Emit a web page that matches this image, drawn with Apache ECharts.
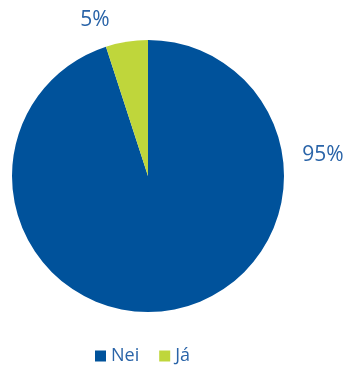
<!DOCTYPE html>
<html>
<head>
<meta charset="utf-8">
<script src="https://cdn.jsdelivr.net/npm/echarts@6/dist/echarts.min.js"></script>
<style>
  html, body { margin: 0; padding: 0; background: #ffffff; }
  #chart { width: 348px; height: 366px; }
</style>
</head>
<body>
<div id="chart"></div>
<script>
// Answers and their shares (percent)
const categories = ['Nei', 'Já'];
const shares = [95, 5];
const sliceColors = ['#00529b', '#bfd63b'];

const textBlue = '#2a64a8';
const fontFamily = '"Open Sans", "Noto Sans", sans-serif';

// Fixed spots for each slice's percentage label
const labelSpots = [
  { x: 323, y: 155 },
  { x: 95, y: 20 }
];

const chart = echarts.init(document.getElementById('chart'), null, { renderer: 'canvas' });

chart.setOption({
  animation: false,
  color: sliceColors,
  legend: {
    data: categories,
    left: 90,
    top: 342,
    padding: 5,
    icon: 'rect',
    itemWidth: 11,
    itemHeight: 11,
    itemGap: 20,
    textStyle: {
      color: textBlue,
      fontFamily: fontFamily,
      fontSize: 18,
      fontWeight: 400
    }
  },
  series: [{
    type: 'pie',
    center: [148, 176],
    radius: 136,
    startAngle: 90,
    clockwise: true,
    data: categories.map((name, i) => ({ name: name, value: shares[i] })),
    itemStyle: { borderWidth: 0 },
    label: {
      show: true,
      position: 'outside',
      formatter: p => p.value + '%',
      color: textBlue,
      fontFamily: fontFamily,
      fontSize: 21,
      fontWeight: 400
    },
    labelLine: { show: false },
    labelLayout: p => ({
      x: labelSpots[p.dataIndex].x,
      y: labelSpots[p.dataIndex].y,
      align: 'center',
      verticalAlign: 'middle'
    }),
    emphasis: { disabled: true }
  }]
});
</script>
</body>
</html>
